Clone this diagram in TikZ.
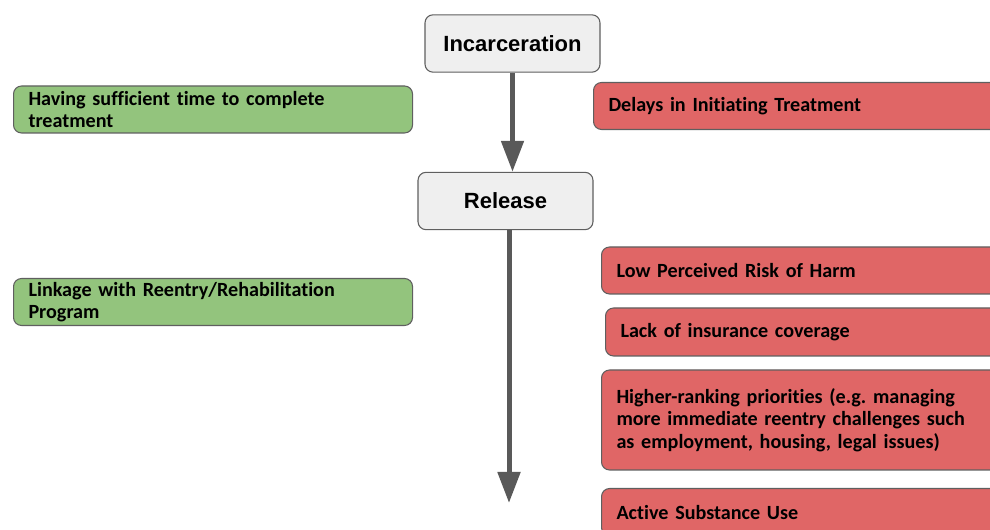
\documentclass[tikz,border=0pt]{standalone}
\usepackage{fontspec}
\setmainfont{Carlito}[Ligatures=NoCommon]
\newfontfamily\headfont{Liberation Sans}
\usetikzlibrary{arrows.meta}

\definecolor{boxgray}{HTML}{EFEFEF}
\definecolor{linegray}{HTML}{5F5F5F}
\definecolor{arrowgray}{HTML}{595959}
\definecolor{goodgreen}{HTML}{93C47D}
\definecolor{badred}{HTML}{E06666}

\begin{document}
\begin{tikzpicture}[x=0.75pt,y=-0.75pt,
    stagebox/.style={draw=linegray,fill=boxgray,line width=0.8pt,
        rounded corners=6pt,minimum width=131.25pt,minimum height=43pt,
        font=\headfont\bfseries\fontsize{16.5}{19}\selectfont},
    factorbox/.style={draw=linegray,line width=0.8pt,rounded corners=6pt,
        anchor=west,align=left,inner xsep=11.25pt,inner ysep=0pt,
        font=\bfseries\fontsize{15.1}{16.8}\selectfont},
    goodbox/.style={factorbox,fill=goodgreen,text width=276.75pt,
        minimum height=35.25pt},
    badbox/.style={factorbox,fill=badred,text width=300pt,
        minimum height=35.25pt},
    flowarrow/.style={draw=arrowgray,fill=arrowgray,line width=3.75pt,
        -{Triangle[length=23.25pt,width=16.5pt]}}]
    \useasboundingbox (0,0) rectangle (990,530);
    \clip (0,0) rectangle (990,530);

    \node[stagebox] (inc) at (512.5,43.5) {Incarceration};
    \node[stagebox] (rel) at (505.5,201) {Release};

    \node[goodbox] (time) at (13,109.5)
        {Having sufficient time to complete\\treatment};
    \node[goodbox] (link) at (13,302)
        {Linkage with Reentry/Rehabilitation\\Program};

    \node[badbox] (delay) at (593,106) {Delays in Initiating Treatment};
    \node[badbox] (harm) at (601,270.5) {Low Perceived Risk of Harm};
    \node[badbox,minimum height=36pt] (insur) at (605,332)
        {Lack of insurance coverage};
    \node[badbox,minimum height=75pt] (prio) at (601,420)
        {Higher-ranking priorities (e.g.\ managing\\more immediate reentry challenges such\\as employment, housing, legal issues)};
    \node[badbox,anchor=north west] (subst) at (601,488)
        {Active Substance Use};

    \coordinate (flowend) at (509,503);
    \draw[flowarrow] (inc.south) -- (inc.south |- rel.north);
    \draw[flowarrow] (rel.south -| flowend) -- (flowend);
\end{tikzpicture}
\end{document}
